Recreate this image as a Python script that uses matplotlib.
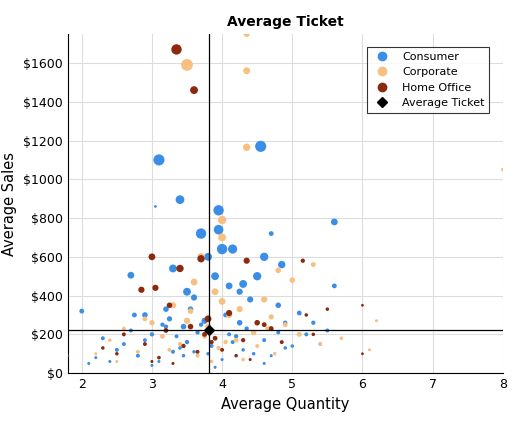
import matplotlib
matplotlib.use("Agg")
import matplotlib.pyplot as plt
from matplotlib.lines import Line2D

cons_x = [3.1,4.55,3.95,3.4,3.95,3.7,4.0,4.15,5.6,3.3,4.6,4.85,2.7,3.5,4.3,4.5,3.8,4.7,3.05,3.9,4.1,3.6,4.4,3.2,2.9,4.8,5.1,3.75,4.25,3.45,
          2.0,2.3,2.5,2.6,2.8,3.0,3.15,3.3,3.5,3.65,3.85,4.05,4.2,4.35,4.6,4.9,5.2,5.4,5.6,2.2,2.7,3.1,3.4,3.8,4.0,4.3,4.7,5.0,3.55,3.25,
          2.4,2.9,3.35,3.7,4.15,4.45,4.8,5.3,3.0,3.9,4.6,2.75,3.2,4.1,3.6,4.9,5.5,2.1,3.45,4.25]
cons_y = [1100,1170,840,895,740,720,640,640,780,540,600,560,505,420,460,500,600,720,860,500,450,390,380,330,300,350,310,270,260,240,
          320,180,120,150,90,200,250,110,160,210,140,300,190,230,170,260,200,150,450,80,220,60,130,100,70,120,90,140,330,280,
          60,170,190,250,160,100,210,260,40,30,50,300,240,200,110,130,220,50,90,420]
cons_s = [80,80,70,50,60,70,70,55,30,40,45,35,30,40,40,45,40,15,5,40,30,25,25,20,20,20,15,25,20,20,
          15,10,10,10,10,12,12,10,12,12,10,15,12,12,10,12,10,8,15,6,10,6,8,8,6,8,6,8,20,18,
          6,10,10,12,10,8,10,12,6,6,6,15,12,10,8,8,10,6,8,25]

corp_x = [3.5,4.35,4.35,4.35,8.0,4.0,4.0,3.7,4.8,5.0,3.6,4.25,6.2,5.3,3.9,4.6,3.3,4.1,2.9,3.0,3.8,4.45,5.1,3.15,2.6,2.4,3.55,4.7,4.9,5.7,
          3.4,3.95,4.2,2.8,3.65,4.05,4.5,3.25,4.75,5.4,2.2,3.1,3.85,4.3,3.5,4.0,4.65,6.1,3.75,2.5]
corp_y = [1590,1750,1560,1165,1050,790,700,600,530,480,470,330,270,560,420,380,350,300,280,260,240,210,200,190,230,170,320,290,250,180,
          150,130,170,110,90,160,140,120,100,150,100,80,60,70,270,370,230,120,190,60]
corp_s = [90,25,30,35,8,45,40,35,20,20,30,25,6,15,30,25,25,25,15,18,22,20,15,15,10,8,20,18,15,8,
          12,12,15,10,10,12,10,10,8,8,6,8,8,8,25,30,15,6,15,6]

home_x = [3.35,3.6,3.0,3.4,3.7,4.35,5.15,3.05,2.85,3.25,6.0,5.5,3.8,4.1,4.5,3.55,2.6,3.2,4.7,3.9,4.3,2.9,3.45,4.0,4.85,2.5,3.65,4.2,5.2,3.1,
          1.8,2.3,3.75,4.6,6.0,3.0,4.4,3.3,5.3,3.85]
home_y = [1670,1460,600,540,590,580,580,440,430,350,350,330,280,310,260,240,200,220,230,180,170,150,140,120,160,100,110,90,300,80,
          90,130,200,250,100,60,70,50,200,160]
home_s = [70,40,30,35,35,25,12,25,25,20,5,8,30,25,20,20,10,15,15,15,12,10,12,10,10,8,10,8,8,8,
          5,8,15,15,5,6,6,6,8,12]

avg_x, avg_y = 3.82, 225

c_cons, c_corp, c_home = "#3a8ee6", "#f7bf80", "#8b2a0e"
k = 0.8

fig, ax = plt.subplots(figsize=(5.21, 4.24), dpi=100)
ax.scatter(cons_x, cons_y, s=[v*k for v in cons_s], c=c_cons, zorder=3, linewidths=0)
ax.scatter(corp_x, corp_y, s=[v*k for v in corp_s], c=c_corp, zorder=3, linewidths=0)
ax.scatter(home_x, home_y, s=[v*k for v in home_s], c=c_home, zorder=3, linewidths=0)
ax.axvline(avg_x, color="black", lw=0.9, zorder=4)
ax.axhline(avg_y, color="black", lw=0.9, zorder=4)
ax.scatter([avg_x], [avg_y], marker="D", s=25, c="black", zorder=5)

ax.set_xlim(1.8, 8)
ax.set_ylim(0, 1750)
ax.set_xticks([2,3,4,5,6,7,8])
ax.set_yticks(range(0, 1800, 200))
ax.set_yticklabels([f"${v}" for v in range(0, 1800, 200)])
ax.grid(True, color="#dddddd", lw=0.8)
ax.set_axisbelow(True)
for sp in ["top", "right"]:
    ax.spines[sp].set_visible(False)
ax.set_title("Average Ticket", fontweight="bold", fontsize=10)
ax.set_xlabel("Average Quantity", fontsize=10.5)
ax.set_ylabel("Average Sales", fontsize=10.5)
ax.tick_params(labelsize=9, length=0)

handles = [Line2D([], [], marker="o", ls="", color=c_cons, markersize=6, label="Consumer"),
           Line2D([], [], marker="o", ls="", color=c_corp, markersize=6, label="Corporate"),
           Line2D([], [], marker="o", ls="", color=c_home, markersize=6, label="Home Office"),
           Line2D([], [], marker="D", ls="", color="black", markersize=5, label="Average Ticket")]
leg = ax.legend(handles=handles, loc="upper right", fontsize=8, fancybox=False, edgecolor="black",
                borderaxespad=1.2)
leg.get_frame().set_linewidth(0.8)
fig.subplots_adjust(left=0.13, right=0.965, top=0.92, bottom=0.12)
fig.savefig("out.png")
